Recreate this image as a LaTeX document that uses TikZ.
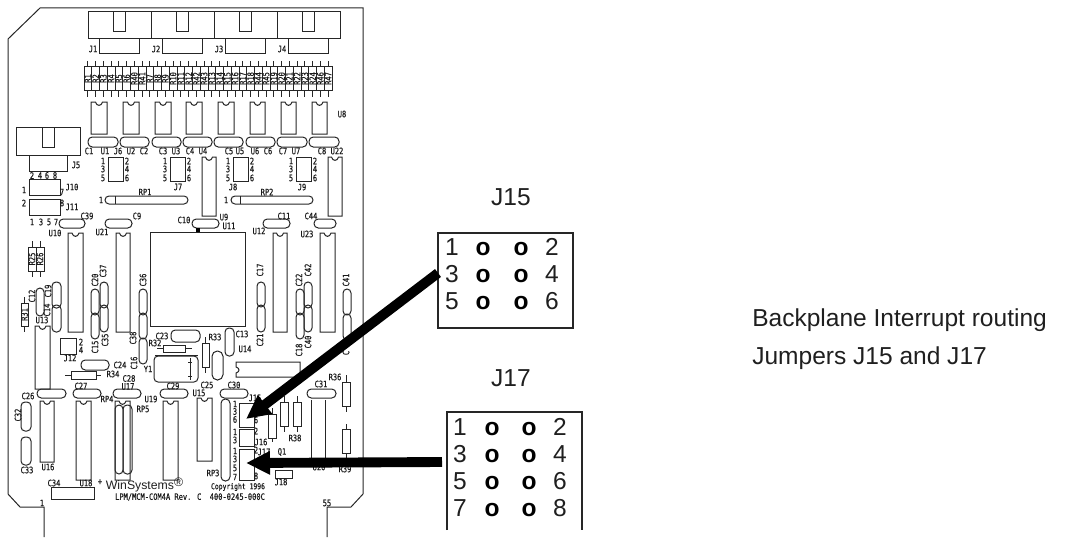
\documentclass[tikz,border=0pt]{standalone}
\usepackage{fontspec}
\setmainfont{Liberation Sans}
\newfontfamily\cadfont[FakeStretch=0.8,FakeBold=0.5]{DejaVu Sans Mono}
\usetikzlibrary{arrows.meta}
\newcounter{lblc}
\newcommand{\lbl}[3]{\stepcounter{lblc}\node[cad] (lbl\arabic{lblc}) at (#1,#2) {#3};}
\newcommand{\lblr}[3]{\stepcounter{lblc}\node[cad,rotate=90] (lbl\arabic{lblc}) at (#1,#2) {#3};}
\newcommand{\pillv}[4]{\draw[part,rounded corners=3pt] (#1,#2) rectangle (#3,#4);}
\newcommand{\pillh}[4]{\draw[part,rounded corners=3.2pt] (#1,#2) rectangle (#3,#4);}
\newcommand{\chipic}[4]{%
  \pgfmathsetmacro\ma{(#1+#3)/2-3.5}\pgfmathsetmacro\mb{(#1+#3)/2+3.5}%
  \pgfmathsetmacro\mc{(#1+#3)/2-2.5}\pgfmathsetmacro\md{(#1+#3)/2+2.5}\pgfmathsetmacro\me{#2+4.5}%
  \draw[part] (#1,#2) -- (\ma,#2) .. controls (\mc,\me) and (\md,\me) .. (\mb,#2) -- (#3,#2) -- (#3,#4) -- (#1,#4) -- cycle;}
\newcommand{\resv}[6]{\draw[part] (#1,#2) rectangle (#3,#4);
  \pgfmathsetmacro\mm{(#1+#3)/2}\draw[part] (\mm,#5) -- (\mm,#2) (\mm,#4) -- (\mm,#6);}
\tikzset{
  x=0.75pt,y=-0.75pt,
  part/.style={draw=black!85,line width=0.75pt},
  cad/.style={inner sep=0pt,text=black!90,font=\cadfont\fontsize{6.6}{7}\selectfont},
  big/.style={inner sep=0pt,text=black!88,font=\fontsize{18.4}{20}\selectfont},
  pin/.style={inner sep=0pt,yshift=-1.2pt,text=black,font=\bfseries\fontsize{18.4}{20}\selectfont},
  jumperbox/.style={part,line width=0.8pt},
  pointer/.style={draw=black,line width=7.4pt,-{Triangle[length=18pt,width=16.5pt]}},
}
\begin{document}
\begin{tikzpicture}
\useasboundingbox (0,0) rectangle (1077,542);
% board outline
\draw[part] (44,537) -- (44,507) -- (20,507) -- (8,494) -- (8,39) -- (40,8) -- (363,8) -- (363,494) -- (351,507) -- (327,507) -- (327,537);
% top connectors
\foreach \n [count=\i from 0] in {1,2,3,4}{
  \pgfmathsetmacro\xa{88+\i*63}\pgfmathsetmacro\xb{\xa+63}
  \pgfmathsetmacro\xc{\xa+25}\pgfmathsetmacro\xd{\xa+37}
  \pgfmathsetmacro\xe{\xa+11}\pgfmathsetmacro\xf{\xa+51}\pgfmathsetmacro\xl{\xa+5}
  \draw[part] (\xa,12) rectangle (\xb,39);
  \draw[part] (\xc,12) -- (\xc,32) -- (\xd,32) -- (\xd,12);
  \draw[part] (\xe,39) -- (\xe,54) -- (\xf,54) -- (\xf,39);
  \lbl{\xl}{49}{J\n}
}
% resistor row
\foreach \n [count=\i from 0] in {1,2,3,4,5,6,40,41,7,8,9,10,11,12,42,43,13,14,15,16,17,18,44,45,19,20,21,22,23,24,46,47}{
  \pgfmathsetmacro\xa{84+\i*7.75}\pgfmathsetmacro\xb{\xa+7.75}\pgfmathsetmacro\xm{\xa+3.9}
  \draw[part] (\xa,67) rectangle (\xb,90);
  \draw[part] (\xm,61) -- (\xm,67) (\xm,90) -- (\xm,97);
  \lblr{\xm}{78.5}{R\n}
}
% IC row and capacitors
\foreach \xa/\xb in {91/107,123/139,155/171,186/202,218/234,250/265,281/296,312/327}{\chipic{\xa}{102}{\xb}{134}}
\foreach \xa/\xb in {88/118,120/149,152/181,183/212,214/243,246/275,277/307,309/339}{\pillh{\xa}{137}{\xb}{147}}
\foreach \x/\t in {89/C1,105/U1,118/J6,131/U2,144/C2,163/C3,176/U3,190/C4,203/U4,229/C5,240/U5,255/U6,268/C6,283/C7,296/U7,322/C8,337/U22}{\lbl{\x}{151}{\t}}
\lbl{342}{114}{U8}
% small headers
\foreach \x in {108,170,233,296}{
  \pgfmathsetmacro\xb{\x+15}\pgfmathsetmacro\xl{\x-5}\pgfmathsetmacro\xr{\x+19}
  \draw[part] (\x,157) rectangle (\xb,181);
  \lbl{\xl}{161}{1}\lbl{\xl}{169}{3}\lbl{\xl}{178}{5}
  \lbl{\xr}{161}{2}\lbl{\xr}{169}{4}\lbl{\xr}{178}{6}
}
\lbl{178}{187}{J7}\lbl{233}{187}{J8}\lbl{302}{187}{J9}
\chipic{202}{157}{216}{216}
\chipic{328}{157}{342}{216}
% J5 J10 J11
\draw[part] (16,127) rectangle (80,155);
\draw[part] (42,127) -- (42,147) -- (54,147) -- (54,127);
\draw[part] (29,155) -- (29,171) -- (67,171) -- (67,155);
\lbl{76}{165}{J5}
\foreach \x/\t in {32/2,40/4,47/6,55/8}{\lbl{\x}{175.5}{\t}}
\draw[part] (29,179) rectangle (60,195);
\draw[part] (29,199) rectangle (60,215);
\lbl{24}{190}{1}\lbl{62}{192}{7}\lbl{72}{187}{J10}
\lbl{24}{203}{2}\lbl{62}{203}{8}\lbl{72}{207}{J11}
\foreach \x/\t in {32/1,41/3,49/5,56/7}{\lbl{\x}{222}{\t}}
% resistor packs
\draw[part,rounded corners=3pt] (105,196) rectangle (188,204);
\draw[part] (115,196) -- (115,204);
\lbl{101}{200}{1}\lbl{145}{192}{RP1}
\draw[part,rounded corners=3pt] (231,196) rectangle (313,204);
\draw[part] (240,196) -- (240,204);
\lbl{226}{200}{1}\lbl{267}{192}{RP2}
% upper caps
\pillh{59}{219}{85}{228}\lbl{87}{216}{C39}\lbl{55}{233}{U10}
\pillh{105}{219}{132}{228}\lbl{137}{216}{C9}\lbl{102}{232}{U21}
\pillh{192}{219}{219}{228}\lbl{184}{220}{C10}\lbl{224}{217}{U9}\lbl{229}{226}{U11}
\pillh{263}{219}{290}{228}\lbl{284}{216}{C11}\lbl{259}{231}{U12}
\pillh{314}{219}{336}{228}\lbl{311}{216}{C44}\lbl{307}{234}{U23}
% big chip
\draw[part] (150,232) rectangle (245,326);
\fill[black] (196,228) rectangle (199.5,232);
% tall ICs
\chipic{68}{233}{83}{332}
\chipic{116}{233}{130}{332}
\chipic{273}{233}{287}{332}
\chipic{320}{233}{335}{332}
\chipic{35}{326}{50}{389}
\lbl{42}{320}{U13}
% left resistors & caps
\resv{28}{247}{36}{271}{241}{277}\lblr{32}{259}{R25}
\resv{36}{247}{44}{271}{241}{277}\lblr{40}{259}{R26}
\resv{21}{303}{28}{326}{297}{332}\lblr{24.5}{314.5}{R31}
\pillv{36}{288}{44}{316}\lblr{32}{296}{C12}
\pillv{52}{282}{61}{308}\lblr{48}{291}{C19}
\pillv{52}{305}{61}{332}\lblr{47}{310}{C14}
\draw[part] (60,338) rectangle (76,354);
\lbl{81}{342}{2}\lbl{81}{350}{4}\lbl{70}{358}{J12}
\pillv{91}{289}{99}{315}\pillv{91}{313}{99}{339}
\pillv{100}{282}{108}{308}\pillv{100}{305}{108}{332}
\lblr{95}{280}{C20}\lblr{103}{271}{C37}\lblr{95}{347}{C15}\lblr{105}{340}{C35}
\pillv{139}{289}{147}{315}\pillv{139}{313}{147}{339}\pillv{139}{338}{147}{364}
\lblr{143}{280}{C36}\lblr{133}{338}{C38}\lblr{134}{363}{C16}
\pillv{257}{282}{265}{307}\pillv{257}{305}{265}{332}
\lblr{260}{270}{C17}\lblr{260}{340}{C21}
\pillv{296}{289}{304}{315}\pillv{296}{313}{304}{339}
\pillv{304}{282}{312}{308}\pillv{304}{305}{312}{332}
\lblr{299}{280}{C22}\lblr{308}{270}{C42}\lblr{299}{350}{C18}\lblr{308}{342}{C40}
\pillv{343}{289}{351}{315}\pillv{343}{314}{351}{340}
\lblr{346}{280}{C41}\lblr{346}{353}{C}
% middle parts
\pillh{171}{330}{200}{342}\lbl{162}{336}{C23}
\draw[part] (163,345) rectangle (185,352) (157,348.5) -- (163,348.5) (185,348.5) -- (192,348.5);
\lbl{155}{343}{R32}
\resv{202}{343}{209}{367}{337}{373}\lbl{215}{337}{R33}
\pillv{225}{328}{234}{356}\lbl{242}{334}{C13}\lbl{245}{349}{U14}
\draw[part,rounded corners=4pt] (212,351) rectangle (223,380);
\draw[part,rounded corners=3pt] (154,356) rectangle (198,382);
\draw[part] (155,355) -- (198,355) (190,358) -- (190,380) (188,362) -- (192,362) (188,376) -- (192,376);
\lbl{148}{369}{Y1}
\draw[part] (236,362) -- (300,362) -- (300,377) -- (236,377) -- (236,373) .. controls (240,372) and (240,368) .. (236,367) -- cycle;
\pillh{81}{360}{109}{370}\lbl{120}{365}{C24}
\draw[part] (71,371) rectangle (96,379) (65,375) -- (71,375) (96,375) -- (101,375);
\lbl{113}{374}{R34}
\lbl{129}{378.5}{C28}\lbl{128}{386.5}{U17}
% lower caps
\pillh{37}{389}{66}{398}\lbl{28}{396}{C26}
\pillh{73}{389}{101}{398}\lbl{81}{386}{C27}
\pillh{113}{389}{141}{398}
\pillh{160}{389}{188}{398}\lbl{173}{386}{C29}
\pillh{220}{389}{248}{398}\lbl{234}{385}{C30}
\pillh{307}{389}{336}{398}\lbl{321}{384}{C31}
\lbl{207}{385}{C25}\lbl{199}{393}{U15}\lbl{107}{399}{RP4}\lbl{151}{399}{U19}\lbl{143}{409}{RP5}
% lower ICs
\chipic{40}{401}{54}{462}\lbl{48}{467}{U16}
\chipic{76}{401}{91}{480}\lbl{86}{483}{U18}
\chipic{115}{401}{130}{480}
\draw[part,rounded corners=3pt] (115,405) rectangle (123,474);
\draw[part,rounded corners=3pt] (123,405) rectangle (132,474);
\chipic{163}{401}{178}{480}
\chipic{197}{398}{212}{461}
\draw[part,rounded corners=3.2pt] (221,399) rectangle (230,481);
\lbl{213}{473}{RP3}
\draw[part] (311,400) -- (311,460) (325,400) -- (325,460);
\lbl{319}{467}{U20}
% board jumpers
\node[part,inner sep=0pt,minimum width=11.25pt,minimum height=18pt] (pcbJ15) at (246.5,415) {};
\node[part,inner sep=0pt,minimum width=11.25pt,minimum height=12.75pt] (pcbJ16) at (246.5,437.5) {};
\node[part,inner sep=0pt,minimum width=11.25pt,minimum height=23.25pt] (pcbJ17) at (246.5,464.5) {};
\lbl{235}{404}{1}\lbl{235}{411.5}{3}\lbl{235}{419.5}{6}\lbl{256}{420}{6}\lbl{255}{398}{J15}
\lbl{235}{432}{1}\lbl{235}{440}{3}\lbl{256}{431}{2}\lbl{261}{442}{J16}
\lbl{235}{451}{1}\lbl{235}{459}{3}\lbl{235}{468}{5}\lbl{235}{477}{7}\lbl{256}{450}{2}\lbl{256}{476}{8}\lbl{264}{452}{J17}
\lbl{282}{452}{Q1}
\draw[part] (275,470) rectangle (292,478);\lbl{281}{482}{J18}
\resv{268}{414}{276}{438}{408}{442}
\resv{280}{402}{288}{426}{396}{432}
\resv{293}{402}{301}{426}{396}{432}\lbl{295}{438}{R38}
\resv{342}{382}{350}{406}{375}{412}\lbl{335}{377}{R36}
\resv{342}{429}{350}{453}{424}{460}\lbl{345}{469}{R39}
% bottom parts
\pillv{21}{402}{31}{431}\lblr{18}{415}{C32}
\pillv{21}{437}{31}{465}\lbl{27}{470}{C33}
\draw[part] (51,487) rectangle (94,499);\lbl{54}{483}{C34}
\lbl{100}{482}{+}
\node[inner sep=0pt,text=black!88,font=\fontsize{9.2}{11}\selectfont] (brand) at (144.5,485) {WinSystems\raisebox{2pt}{\textregistered}};
\node[cad,font=\cadfont\fontsize{6}{7}\selectfont] (copy) at (238,487) {Copyright 1996};
\lbl{190}{497}{LPM/MCM-COM4A Rev. C\ \ 400-0245-000C}
\lbl{42}{503}{1}\lbl{327}{503}{55}
% J15 detail
\node[big] (t15) at (511,197) {J15};
\node[jumperbox,inner sep=0pt,minimum width=101.25pt,minimum height=71.25pt] (j15box) at (505.5,280.5) {};
\foreach \y/\a/\b in {247/1/2,274/3/4,301/5/6}{
  \node[big] (j15l\a) at (452,\y) {\a};
  \node[pin] (j15o\a) at (483,\y) {o};
  \node[pin] (j15o\b) at (521,\y) {o};
  \node[big] (j15r\b) at (552,\y) {\b};
}
% J17 detail
\node[big] (t17) at (511,378) {J17};
\draw[jumperbox] (447,530) -- (447,412) -- (582,412) -- (582,530);
\foreach \y/\a/\b in {427/1/2,454/3/4,481/5/6,508/7/8}{
  \node[big] (j17l\a) at (460,\y) {\a};
  \node[pin] (j17o\a) at (492,\y) {o};
  \node[pin] (j17o\b) at (529,\y) {o};
  \node[big] (j17r\b) at (560,\y) {\b};
}
% caption
\node[big,anchor=west] (cap1) at (752,320) {Backplane Interrupt routing};
\node[big,anchor=west] (cap2) at (752,358) {Jumpers J15 and J17};
% pointers
\coordinate (a15s) at (438,273);
\coordinate (a15e) at (246,419);
\coordinate (a17s) at (442,462);
\coordinate (a17e) at (246,463);
\draw[pointer] (a15s) -- (a15e);
\draw[pointer] (a17s) -- (a17e);
\end{tikzpicture}
\end{document}
